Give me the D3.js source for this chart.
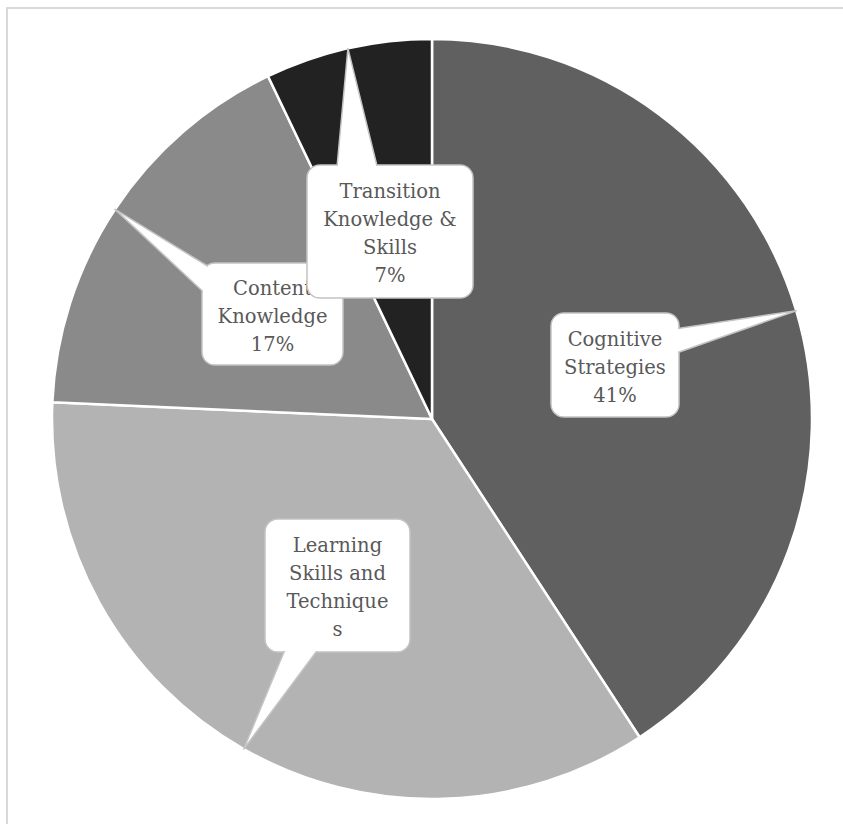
<!DOCTYPE html>
<html>
<head>
<meta charset="utf-8">
<script src="https://cdn.jsdelivr.net/npm/d3@7"></script>
<style>
  body { margin: 0; background: #fff; }
  svg { display: block; }
</style>
</head>
<body>
<div id="chart"></div>
<script>
// data (clockwise from 12 o'clock)
const categories = ["Cognitive Strategies", "Learning Skills and Techniques", "Content Knowledge", "Transition Knowledge & Skills"];
const values = [40.8, 34.9, 17.2, 7.1];
const labelLines = [
  ["Cognitive", "Strategies"],
  ["Learning", "Skills and", "Technique", "s"],
  ["Content", "Knowledge"],
  ["Transition", "Knowledge &", "Skills"]
];
const showPercent = [true, false, true, true];
const sliceColors = ["#606060", "#b3b3b3", "#8a8a8a", "#222222"];

// callout boxes: x, y, w, h and the two base points of the pointer
const callouts = [
  { x: 551, y: 313, w: 128, h: 104, base: [[668, 330], [668, 356]] },
  { x: 265, y: 519, w: 145, h: 133, base: [[289, 640], [325, 640]] },
  { x: 202, y: 263, w: 141, h: 102, base: [[214, 270], [212, 300]] },
  { x: 307, y: 165, w: 166, h: 133, base: [[336, 178], [380, 178]] }
];

const width = 843, height = 824;
const cx = 432, cy = 419, radius = 380;

const svg = d3.select("#chart").append("svg")
  .attr("width", width)
  .attr("height", height);

// chart frame (right and bottom edges fall outside the picture)
svg.append("rect")
  .attr("x", 7)
  .attr("y", 8)
  .attr("width", 1000)
  .attr("height", 1000)
  .attr("fill", "none")
  .attr("stroke", "#d9d9d9")
  .attr("stroke-width", 2);

const pie = d3.pie().sort(null).value(d => d);
const arcs = pie(values);
const arc = d3.arc().innerRadius(0).outerRadius(radius);

const g = svg.append("g").attr("transform", `translate(${cx},${cy})`);

g.selectAll(".slice")
  .data(arcs)
  .enter().append("path")
  .attr("class", "slice")
  .attr("d", arc)
  .attr("fill", (d, i) => sliceColors[i])
  .attr("stroke", "#fff")
  .attr("stroke-width", 2.5)
  .attr("stroke-linejoin", "round");

// pointer tip sits on the outer edge at the middle angle of its slice
const tipOf = d => {
  const a = (d.startAngle + d.endAngle) / 2;
  return [cx + radius * Math.sin(a), cy - radius * Math.cos(a)];
};

const fmt = d3.format(".0f");

arcs.forEach((d, i) => {
  const c = callouts[i];
  const tip = tipOf(d);
  const layer = svg.append("g").attr("class", "callout");

  layer.append("rect")
    .attr("x", c.x).attr("y", c.y)
    .attr("width", c.w).attr("height", c.h)
    .attr("rx", 13).attr("ry", 13)
    .attr("fill", "#fff")
    .attr("stroke", "#c4c4c4")
    .attr("stroke-width", 1.5);

  layer.append("path")
    .attr("d", `M${tip[0]},${tip[1]}L${c.base[0][0]},${c.base[0][1]}L${c.base[1][0]},${c.base[1][1]}Z`)
    .attr("fill", "#fff")
    .attr("stroke", "#c4c4c4")
    .attr("stroke-width", 1.5)
    .attr("stroke-linejoin", "round");

  // cover the inner strokes so box and pointer read as one shape
  layer.append("rect")
    .attr("x", c.x + 1).attr("y", c.y + 1)
    .attr("width", c.w - 2).attr("height", c.h - 2)
    .attr("rx", 12).attr("ry", 12)
    .attr("fill", "#fff");

  const lines = labelLines[i].slice();
  if (showPercent[i]) lines.push(fmt(values[i]) + "%");

  const lh = 28;
  const midY = c.y + c.h / 2 + 2;
  const y0 = midY - (lines.length - 1) * lh / 2;

  layer.append("text")
    .attr("text-anchor", "middle")
    .attr("font-family", "'DejaVu Serif', serif")
    .attr("font-size", 19.5)
    .attr("fill", "#595959")
    .selectAll("tspan")
    .data(lines)
    .enter().append("tspan")
    .attr("x", c.x + c.w / 2)
    .attr("y", (t, j) => y0 + j * lh)
    .attr("dy", "0.35em")
    .text(t => t);
});
</script>
</body>
</html>
